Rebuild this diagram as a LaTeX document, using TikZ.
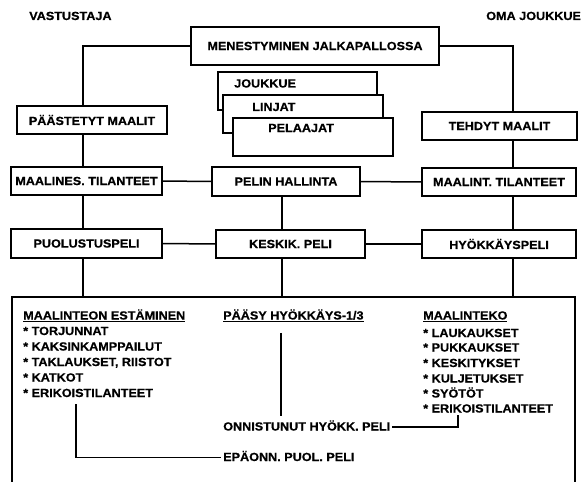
\documentclass[tikz,border=0pt]{standalone}
\usepackage{fontspec}
\setmainfont{Liberation Sans}[FakeStretch=1.07,BoldFeatures={FakeBold=0.6}]
\newcommand\lbl{\bfseries\fontsize{11.8}{14}\selectfont}
\begin{document}
\begin{tikzpicture}[x=1pt,y=-1pt,line width=1.5pt,
  box/.style={draw,rectangle,inner sep=0pt,font=\lbl},
  stackbox/.style={box,fill=white,minimum width=160pt,minimum height=38pt},
  txt/.style={font=\lbl,inner sep=1.5pt,anchor=base west,text height=9pt,text depth=2pt},
  hd/.style={txt}]
\useasboundingbox (0,0) rectangle (585,481);

% side titles
\node[txt] (vast) at (27,20) {VASTUSTAJA};
\node[txt] (oma) at (484,20) {OMA JOUKKUE};

% top level
\node[box,minimum width=248pt,minimum height=38pt] (men) at (315,46) {MENESTYMINEN JALKAPALLOSSA};
\node[box,minimum width=150pt,minimum height=28pt] (paast) at (92,120) {PÄÄSTETYT MAALIT};
\node[box,minimum width=155pt,minimum height=28pt] (tehdyt) at (499.5,126) {TEHDYT MAALIT};

% stacked team boxes
\node[stackbox,minimum width=159pt] (jk) at (297.5,91) {};
\node[txt] (jkt) at (232,87.5) {JOUKKUE};
\node[stackbox] (lj) at (303,114) {};
\node[txt] (ljt) at (250,111) {LINJAT};
\node[stackbox] (pl) at (313,137) {};
\node[txt] (plt) at (266,132) {PELAAJAT};

% second row
\node[box,minimum width=151pt,minimum height=28pt] (mnes) at (86.5,181) {MAALINES. TILANTEET};
\node[box,minimum width=148pt,minimum height=29pt] (pelin) at (286,181.5) {PELIN HALLINTA};
\node[box,minimum width=154pt,minimum height=28pt] (mint) at (499,182) {MAALINT. TILANTEET};

% third row
\node[box,minimum width=151pt,minimum height=29pt] (puol) at (86.5,243.5) {PUOLUSTUSPELI};
\node[box,minimum width=149pt,minimum height=28pt] (kesk) at (290.5,244) {KESKIK. PELI};
\node[box,minimum width=154pt,minimum height=28pt] (hyok) at (499,244) {HYÖKKÄYSPELI};

% open frame at the bottom
\coordinate (fbl) at (12,482);
\coordinate (ftl) at (12,297);
\coordinate (ftr) at (575,297);
\coordinate (fbr) at (575,482);
\draw (fbl) -- (ftl) -- (ftr) -- (fbr);

% vertical guide lines
\coordinate (lx) at (83,0);
\coordinate (cx) at (282,0);
\coordinate (rx) at (513,0);

\draw (men.west) -| (lx |- paast.north);
\draw (lx |- paast.south) -- (lx |- mnes.north);
\draw (lx |- mnes.south) -- (lx |- puol.north);
\draw (lx |- puol.south) -- (lx |- ftl);

\draw (men.east) -| (rx |- tehdyt.north);
\draw (rx |- tehdyt.south) -- (rx |- mint.north);
\draw (rx |- mint.south) -- (rx |- hyok.north);
\draw (rx |- hyok.south) -- (rx |- ftr);

\draw (cx |- pelin.south) -- (cx |- kesk.north);
\draw (cx |- kesk.south) -- (cx |- ftl);

\draw (mnes.east) -- (pelin.west);
\draw (pelin.east) -- (mint.west);
\draw (puol.east) -- (kesk.west);
\draw (kesk.east) -- (hyok.west);

% defence column
\node[hd] (est) at (21,319.5) {\underline{MAALINTEON ESTÄMINEN}};
\node[txt] (e1) at (21,335) {* TORJUNNAT};
\node[txt] (e2) at (21,350.5) {* KAKSINKAMPPAILUT};
\node[txt] (e3) at (21,366) {* TAKLAUKSET, RIISTOT};
\node[txt] (e4) at (21,381.5) {* KATKOT};
\node[txt] (e5) at (21,397) {* ERIKOISTILANTEET};

% middle column
\node[hd] (pasy) at (221,319.5) {\underline{PÄÄSY HYÖKKÄYS-1/3}};
\node[txt] (onn) at (221,430.5) {ONNISTUNUT HYÖKK. PELI};
\node[txt] (epa) at (221,461) {EPÄONN. PUOL. PELI};

% attack column
\node[hd] (mtk) at (421,319.5) {\underline{MAALINTEKO}};
\node[txt] (m1) at (421,337) {* LAUKAUKSET};
\node[txt] (m2) at (421,351.5) {* PUKKAUKSET};
\node[txt] (m3) at (421,367) {* KESKITYKSET};
\node[txt] (m4) at (421,382.5) {* KULJETUKSET};
\node[txt] (m5) at (421,397.5) {* SYÖTÖT};
\node[txt] (m6) at (421,412.5) {* ERIKOISTILANTEET};

% links inside the frame
\coordinate (vx) at (281,0);
\coordinate (hx) at (458,0);
\coordinate (dx) at (76,0);
\draw[shorten <=9pt,shorten >=3pt] (vx |- pasy.south) -- (vx |- onn.north);
\draw (onn.east) -| ([yshift=2pt]hx |- m6.south);
\draw[shorten <=3pt] (dx |- e5.south) |- (epa.west);
\end{tikzpicture}
\end{document}
